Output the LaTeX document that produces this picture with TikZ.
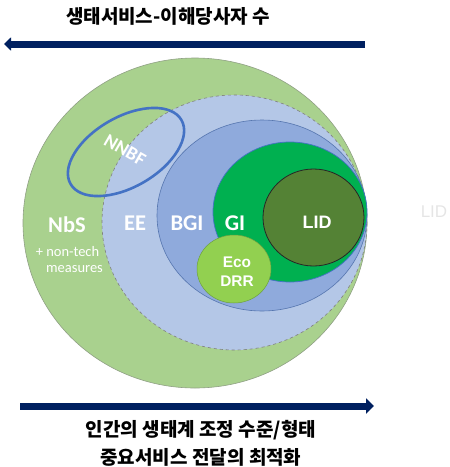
\documentclass[tikz,border=0pt]{standalone}
\usepackage{fontspec}
\setmainfont{Carlito}
\newfontfamily\kr{Noto Sans CJK KR}
\newfontfamily\arialf{Liberation Sans}
\usetikzlibrary{arrows.meta}
\definecolor{nbsg}{HTML}{A9D18E}
\definecolor{eeb}{HTML}{B4C7E7}
\definecolor{bgib}{HTML}{8FAADC}
\definecolor{gig}{HTML}{00B050}
\definecolor{lidg}{HTML}{548235}
\definecolor{ecog}{HTML}{92D050}
\definecolor{navy}{HTML}{002060}
\definecolor{nnbfb}{HTML}{4472C4}
\tikzset{
  lbl/.style={text=white, font=\bfseries\fontsize{22.5}{24}\selectfont},
  small/.style={text=white, font=\fontsize{14.5}{16}\selectfont},
  bigarrow/.style={draw=navy, line width=7pt},
  title/.style={font=\kr\bfseries\fontsize{19}{28}\selectfont, align=center},
}
\begin{document}
\begin{tikzpicture}[x=1pt,y=-1pt]
\useasboundingbox (0,0) rectangle (450,467);
% zones
\draw[fill=nbsg, draw=gray!60!nbsg, line width=0.6pt] (195,223) ellipse [x radius=172, y radius=165];
\draw[fill=eeb, draw=gray, dashed, line width=0.6pt] (234.5,222.5) ellipse [x radius=132.5, y radius=127.5];
\draw[fill=bgib, draw=nnbfb!70!gray, line width=0.6pt] (262,215.5) ellipse [x radius=105, y radius=95.5];
\draw[fill=gig, draw=nnbfb, line width=0.7pt] (290,212) ellipse [x radius=77, y radius=70];
\draw[fill=lidg, draw=black!85, line width=0.8pt] (313.5,217.5) ellipse [x radius=50.5, y radius=48.5];
\draw[fill=ecog, draw=lidg!60!ecog, line width=0.5pt] (234,269) ellipse [x radius=37, y radius=34];
% NNBF ellipse
\draw[draw=nnbfb, line width=2.6pt, rotate around={30:(126,152)}] (126,152) ellipse [x radius=64, y radius=35];
% labels
\node[lbl] (nbs) at (67,225) {NbS};
\node[small] (nontech) at (67.5,252) {+ non-tech};
\node[small] (meas) at (74.5,269) {measures};
\node[lbl] (ee) at (135,223) {EE};
\node[lbl] (bgi) at (187,223) {BGI};
\node[lbl] (gi) at (235,223) {GI};
\node[text=white, font=\arialf\bfseries\fontsize{18}{20}\selectfont] (lid) at (317,222) {LID};
\node[text=white, font=\arialf\bfseries\fontsize{15.4}{19}\selectfont, align=center] (eco) at (237,272) {Eco\\DRR};
\node[text=white, font=\bfseries\fontsize{19}{21}\selectfont, rotate=-30, inner sep=0pt] (nnbf) at (125,150) {NNBF};
\node[text=black!10, font=\arialf\fontsize{17}{19}\selectfont] (ghost) at (434,212) {LID};
% arrows
\coordinate (t1) at (365,44);
\coordinate (t2) at (4,44);
\draw[bigarrow, -{Triangle[length=7pt,width=13pt]}] (t1) -- (t2);
\coordinate (b1) at (20,406);
\coordinate (b2) at (374,406);
\draw[bigarrow, -{Triangle[length=8pt,width=15pt]}] (b1) -- (b2);
% titles
\node[title] (top) at (168,16) {생태서비스-이해당사자 수};
\node[title] (bot) at (201,443) {인간의 생태계 조정 수준/형태\\중요서비스 전달의 최적화};
\end{tikzpicture}
\end{document}
